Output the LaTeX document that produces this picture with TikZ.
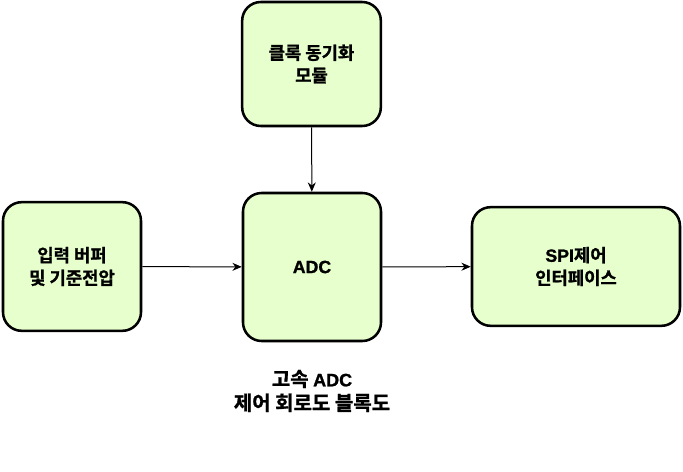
\documentclass[tikz,border=0pt]{standalone}
\usepackage{fontspec}
\setmainfont{Liberation Sans}
\newfontfamily\kr{Noto Sans CJK KR Bold}[FakeBold=1.2]
\newfontfamily\lb{Liberation Sans Bold}[FakeBold=1.2]
\usetikzlibrary{arrows.meta}
\definecolor{boxfill}{HTML}{E6FFCC}
\begin{document}
\begin{tikzpicture}[x=0.75pt,y=-0.75pt,
  blk/.style={draw=black,fill=boxfill,line width=1.9pt,rounded corners=14pt,
    align=center,font=\fontsize{13.3}{17}\selectfont\kr,inner sep=0pt},
  conn/.style={-{Stealth[length=7pt,width=6pt]},line width=0.75pt,black}]
\useasboundingbox (0,0) rectangle (683,472);
\fill[white] (0,0) rectangle (683,472);
\node[blk,minimum width=104pt,minimum height=93pt] (clk) at (311.5,64) {클록 동기화\\모듈};
\node[blk,minimum width=103.5pt,minimum height=111pt] (adc) at (312,267) {{\lb ADC}};
\node[blk,minimum width=103.5pt,minimum height=96.5pt] (inp) at (72,266.5) {입력 버퍼\\및 기준전압};
\node[blk,minimum width=156pt,minimum height=89pt] (spi) at (576,266.5) {{\lb SPI}제어\\인터페이스};
\node[align=center,font=\fontsize{15}{18}\selectfont\kr,inner sep=0pt] (cap) at (312,391) {고속 {\fontsize{13.5}{18}\selectfont\lb ADC}\\제어 회로도 블록도};
\draw[conn] (clk) -- (adc);
\draw[conn] (inp) -- (adc);
\draw[conn] (adc) -- (spi);
\end{tikzpicture}
\end{document}
